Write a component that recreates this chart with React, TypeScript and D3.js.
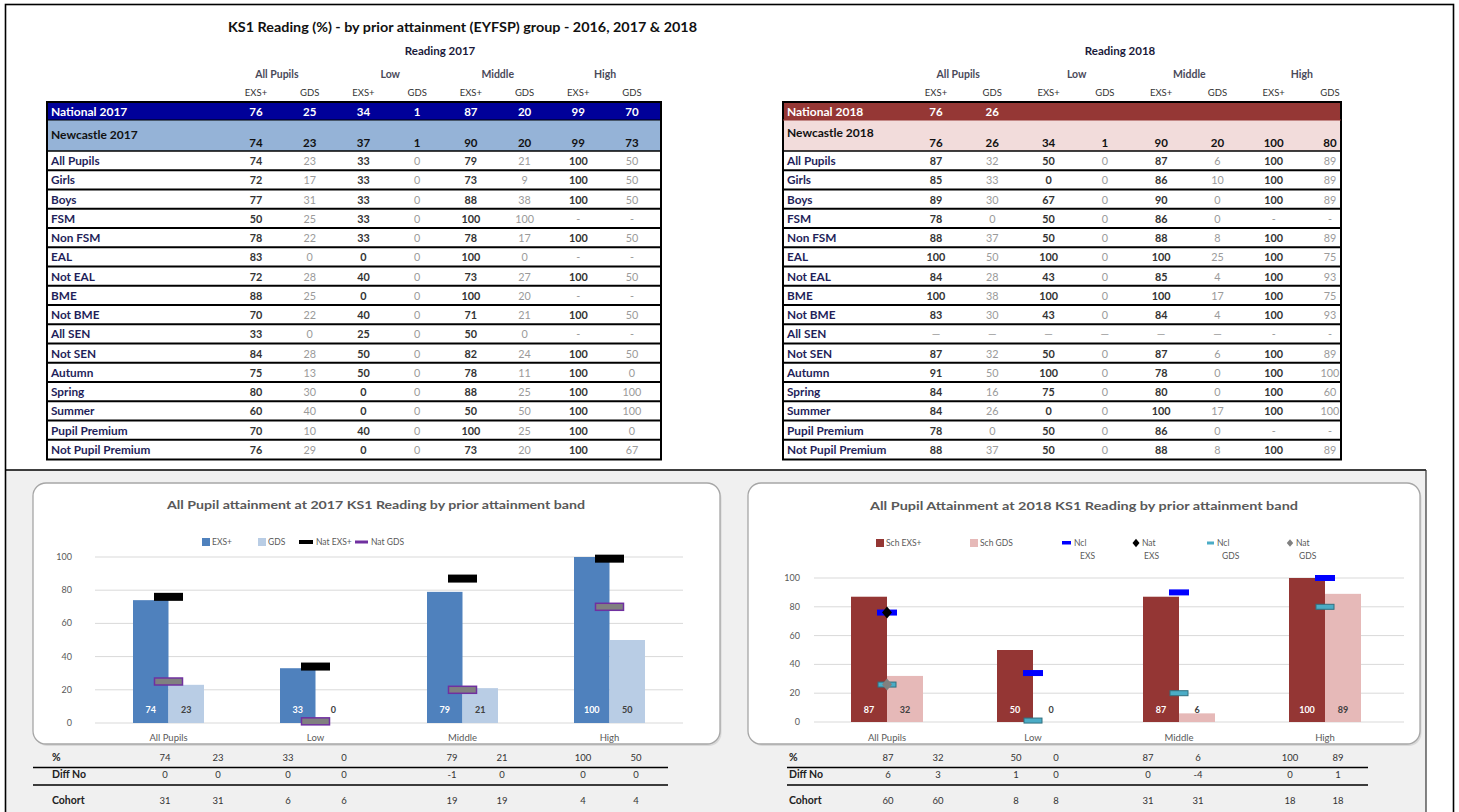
import React from "react";
import * as d3 from "d3";

const FONT = "Lato, 'Open Sans', sans-serif";

// ---------- DATA ----------
const bands = ["All Pupils", "Low", "Middle", "High"];
const measures = ["EXS+", "GDS"];
const rowLabels = [
  "All Pupils", "Girls", "Boys", "FSM", "Non FSM", "EAL", "Not EAL", "BME", "Not BME",
  "All SEN", "Not SEN", "Autumn", "Spring", "Summer", "Pupil Premium", "Not Pupil Premium",
];
const national2017 = [76, 25, 34, 1, 87, 20, 99, 70];
const newcastle2017 = [74, 23, 37, 1, 90, 20, 99, 73];
const national2018 = [76, 26];
const newcastle2018 = [76, 26, 34, 1, 90, 20, 100, 80];
const rows2017: (number | string)[][] = [
  [74, 23, 33, 0, 79, 21, 100, 50],
  [72, 17, 33, 0, 73, 9, 100, 50],
  [77, 31, 33, 0, 88, 38, 100, 50],
  [50, 25, 33, 0, 100, 100, "-", "-"],
  [78, 22, 33, 0, 78, 17, 100, 50],
  [83, 0, 0, 0, 100, 0, "-", "-"],
  [72, 28, 40, 0, 73, 27, 100, 50],
  [88, 25, 0, 0, 100, 20, "-", "-"],
  [70, 22, 40, 0, 71, 21, 100, 50],
  [33, 0, 25, 0, 50, 0, "-", "-"],
  [84, 28, 50, 0, 82, 24, 100, 50],
  [75, 13, 50, 0, 78, 11, 100, 0],
  [80, 30, 0, 0, 88, 25, 100, 100],
  [60, 40, 0, 0, 50, 50, 100, 100],
  [70, 10, 40, 0, 100, 25, 100, 0],
  [76, 29, 0, 0, 73, 20, 100, 67],
];
const rows2018: (number | string)[][] = [
  [87, 32, 50, 0, 87, 6, 100, 89],
  [85, 33, 0, 0, 86, 10, 100, 89],
  [89, 30, 67, 0, 90, 0, 100, 89],
  [78, 0, 50, 0, 86, 0, "-", "-"],
  [88, 37, 50, 0, 88, 8, 100, 89],
  [100, 50, 100, 0, 100, 25, 100, 75],
  [84, 28, 43, 0, 85, 4, 100, 93],
  [100, 38, 100, 0, 100, 17, 100, 75],
  [83, 30, 43, 0, 84, 4, 100, 93],
  ["—", "—", "—", "—", "—", "—", "-", "-"],
  [87, 32, 50, 0, 87, 6, 100, 89],
  [91, 50, 100, 0, 78, 0, 100, 100],
  [84, 16, 75, 0, 80, 0, 100, 60],
  [84, 26, 0, 0, 100, 17, 100, 100],
  [78, 0, 50, 0, 86, 0, "-", "-"],
  [88, 37, 50, 0, 88, 8, 100, 89],
];

// chart 2017
const exs2017 = [74, 33, 79, 100];
const gds2017 = [23, 0, 21, 50];
const natExs2017 = [76, 34, 87, 99];
const natGds2017 = [25, 1, 20, 70];
// chart 2018
const exs2018 = [87, 50, 87, 100];
const gds2018 = [32, 0, 6, 89];
const nclExs2018 = [76, 34, 90, 100];
const natExs2018 = [76];
const nclGds2018 = [26, 1, 20, 80];
const natGds2018 = [26];
const yTicks = [0, 20, 40, 60, 80, 100];

// summary tables under the charts
const summaryLabels = ["%", "Diff No", "Cohort"];
const pct2017 = [74, 23, 33, 0, 79, 21, 100, 50];
const diff2017 = [0, 0, 0, 0, -1, 0, 0, 0];
const cohort2017 = [31, 31, 6, 6, 19, 19, 4, 4];
const pct2018 = [87, 32, 50, 0, 87, 6, 100, 89];
const diff2018 = [6, 3, 1, 0, 0, -4, 0, 1];
const cohort2018 = [60, 60, 8, 8, 31, 31, 18, 18];

// ---------- LAYOUT ----------
const LABEL_COL = "#1f1f5a";
const sumColsLeft = [165, 218, 288, 344, 452, 502, 583, 636];
const sumColsRight = [888, 938, 1016, 1056, 1148, 1198, 1290, 1338];

function TopTable(p: any) {
  const x = d3.scalePoint<number>().domain(d3.range(8)).range([p.c0, p.c1]);
  const ry = d3.scaleLinear().domain([0, rowLabels.length]).range([151, 459]);
  return (
    <g>
      <text x={p.headingX} y={55} textAnchor="middle" fontWeight={700} fontSize={11.5} fill="#1a1a3a">{p.heading}</text>
      {bands.map((b, i) => (
        <text key={b} x={(x(2 * i)! + x(2 * i + 1)!) / 2 - (i === 0 ? 6 : 0)} y={78} textAnchor="middle" fontSize={10.5} fontWeight={700} fill="#4a4a5a">{b}</text>
      ))}
      {d3.range(8).map((i) => (
        <text key={i} x={x(i)} y={96} textAnchor="middle" fontSize={9.5} fill="#333">{measures[i % 2]}</text>
      ))}
      <rect x={p.x0} y={102} width={p.x1 - p.x0} height={18} fill={p.natFill} />
      <text x={p.x0 + 4} y={115.5} fill="#fff" fontWeight={700} fontSize={12}>{p.natLabel}</text>
      {p.natVals.map((v: number, i: number) => (
        <text key={i} x={x(i)} y={116} textAnchor="middle" fill="#fff" fontWeight={700} fontSize={11.5}>{v}</text>
      ))}
      <rect x={p.x0} y={120} width={p.x1 - p.x0} height={31} fill={p.nclFill} />
      <text x={p.x0 + 4} y={p.nclLabelY} fill="#111" fontWeight={700} fontSize={12}>{p.nclLabel}</text>
      {p.nclVals.map((v: number, i: number) => (
        <text key={i} x={x(i)} y={146.5} textAnchor="middle" fill="#111" fontWeight={700} fontSize={11.5}>{v}</text>
      ))}
      {rowLabels.map((lab, r) => (
        <g key={lab}>
          <text x={p.x0 + 4} y={ry(r) + 14} fontSize={11.8} fontWeight={700} fill={LABEL_COL}>{lab}</text>
          {p.rows[r].map((v: number | string, i: number) => {
            const strong = i % 2 === 0 && typeof v === "number";
            return (
              <text key={i} x={x(i)} y={ry(r) + 14} textAnchor="middle" fontSize={10.8}
                fontWeight={strong ? 700 : 400} fill={strong ? "#333" : "#9a9a9a"}>{v}</text>
            );
          })}
          <line x1={p.x0} x2={p.x1} y1={ry(r)} y2={ry(r)} stroke="#000" strokeWidth={r === 0 ? 1.6 : 2} />
        </g>
      ))}
      <rect x={p.x0} y={102} width={p.x1 - p.x0} height={ry(rowLabels.length) - 102 + 0.5} fill="none" stroke="#000" strokeWidth={2} />
      <line x1={p.x0} x2={p.x1} y1={120} y2={120} stroke={p.sepColor} strokeWidth={1} />
    </g>
  );
}

function ChartBox({ x0, x1, y0, y1 }: any) {
  return (
    <g>
      <rect x={x0 + 1.5} y={y0 + 2} width={x1 - x0} height={y1 - y0} rx={13} fill="#c8c8c8" opacity={0.6} />
      <rect x={x0} y={y0} width={x1 - x0} height={y1 - y0} rx={13} fill="#fff" stroke="#a6a6a6" strokeWidth={1.3} />
    </g>
  );
}

function Chart2017() {
  const xb = d3.scaleBand<string>().domain(bands).range([95, 683]);
  const xi = d3.scaleBand<string>().domain(measures).range([-35.5, 35.5]);
  const y = d3.scaleLinear().domain([0, 100]).range([723, 557]);
  const cx = (b: string) => xb(b)! + xb.bandwidth() / 2;
  const bw = xi.bandwidth();
  return (
    <g>
      <ChartBox x0={33} x1={720} y0={483} y1={744} />
      <text x={376} y={509} textAnchor="middle" fontSize={12} fontWeight={700} fill="#595959" textLength={418} lengthAdjust="spacingAndGlyphs">
        All Pupil attainment at 2017 KS1 Reading by prior attainment band
      </text>
      {/* legend */}
      <rect x={202} y={538} width={8} height={8} fill="#4f81bd" />
      <text x={212} y={545} fontSize={8.5} fill="#595959">EXS+</text>
      <rect x={258} y={538} width={8} height={8} fill="#b9cde5" />
      <text x={268} y={545} fontSize={8.5} fill="#595959">GDS</text>
      <rect x={299} y={540} width={14} height={4} fill="#000" />
      <text x={316} y={545} fontSize={8.5} fill="#595959">Nat EXS+</text>
      <rect x={355} y={540.5} width={13} height={3} fill="#7030a0" />
      <text x={371} y={545} fontSize={8.5} fill="#595959">Nat GDS</text>
      {yTicks.map((t) => (
        <g key={t}>
          <line x1={95} x2={683} y1={y(t)} y2={y(t)} stroke="#d9d9d9" strokeWidth={1} />
          <text x={72} y={y(t) + 3} textAnchor="end" fontSize={9} fill="#595959">{t}</text>
        </g>
      ))}
      {bands.map((b, i) => (
        <g key={b}>
          <rect x={cx(b) + xi("EXS+")!} y={y(exs2017[i])} width={bw} height={y(0) - y(exs2017[i])} fill="#4f81bd" />
          <rect x={cx(b) + xi("GDS")!} y={y(gds2017[i])} width={bw} height={y(0) - y(gds2017[i])} fill="#b9cde5" />
          <text x={cx(b) + xi("EXS+")! + bw / 2} y={713} textAnchor="middle" fontSize={9} fontWeight={700} fill="#fff">{exs2017[i]}</text>
          <text x={cx(b) + xi("GDS")! + bw / 2} y={713} textAnchor="middle" fontSize={9} fontWeight={700} fill="#404040">{gds2017[i]}</text>
          <text x={cx(b)} y={741} textAnchor="middle" fontSize={9.5} fill="#595959">{b}</text>
        </g>
      ))}
      {bands.map((b, i) => (
        <g key={"m" + b}>
          <rect x={cx(b) - 14} y={y(natGds2017[i]) - 3.5} width={28} height={7} fill="#808080" stroke="#7030a0" strokeWidth={1.5} />
          <rect x={cx(b) - 14.5} y={y(natExs2017[i]) - 4} width={29} height={8} fill="#000" />
        </g>
      ))}
    </g>
  );
}

function Diamond({ x, y, r, fill }: any) {
  return <path d={`M${x},${y - r * 1.2}L${x + r},${y}L${x},${y + r * 1.2}L${x - r},${y}Z`} fill={fill} />;
}

function Chart2018() {
  const xb = d3.scaleBand<string>().domain(bands).range([814, 1398]);
  const xi = d3.scaleBand<string>().domain(measures).range([-36, 36]);
  const y = d3.scaleLinear().domain([0, 100]).range([722, 578]);
  const cx = (b: string) => xb(b)! + xb.bandwidth() / 2;
  const bw = xi.bandwidth();
  const leg2 = 559;
  return (
    <g>
      <ChartBox x0={748} x1={1420} y0={483} y1={744} />
      <text x={1084} y={510} textAnchor="middle" fontSize={12} fontWeight={700} fill="#595959" textLength={428} lengthAdjust="spacingAndGlyphs">
        All Pupil Attainment at 2018 KS1 Reading by prior attainment band
      </text>
      {/* legend */}
      <rect x={876} y={539} width={8} height={8} fill="#943634" />
      <text x={886} y={546} fontSize={8.5} fill="#595959">Sch EXS+</text>
      <rect x={970} y={539} width={8} height={8} fill="#e6b9b8" />
      <text x={980} y={546} fontSize={8.5} fill="#595959">Sch GDS</text>
      <rect x={1062} y={541} width={9} height={3.5} fill="#0000ff" />
      <text x={1074} y={546} fontSize={8.5} fill="#595959">Ncl</text>
      <text x={1080} y={leg2} fontSize={8.5} fill="#595959">EXS</text>
      <Diamond x={1136} y={543} r={3.5} fill="#000" />
      <text x={1142} y={546} fontSize={8.5} fill="#595959">Nat</text>
      <text x={1144} y={leg2} fontSize={8.5} fill="#595959">EXS</text>
      <rect x={1207} y={541.5} width={7} height={3} fill="#4bacc6" />
      <text x={1217} y={546} fontSize={8.5} fill="#595959">Ncl</text>
      <text x={1222} y={leg2} fontSize={8.5} fill="#595959">GDS</text>
      <Diamond x={1290} y={543} r={3.2} fill="#808080" />
      <text x={1296} y={546} fontSize={8.5} fill="#595959">Nat</text>
      <text x={1299} y={leg2} fontSize={8.5} fill="#595959">GDS</text>
      {yTicks.map((t) => (
        <g key={t}>
          <line x1={814} x2={1404} y1={y(t)} y2={y(t)} stroke="#d9d9d9" strokeWidth={1} />
          <text x={800} y={y(t) + 3} textAnchor="end" fontSize={9} fill="#595959">{t}</text>
        </g>
      ))}
      {bands.map((b, i) => (
        <g key={b}>
          <rect x={cx(b) + xi("EXS+")!} y={y(exs2018[i])} width={bw} height={y(0) - y(exs2018[i])} fill="#943634" />
          <rect x={cx(b) + xi("GDS")!} y={y(gds2018[i])} width={bw} height={y(0) - y(gds2018[i])} fill="#e6b9b8" />
          <text x={cx(b) + xi("EXS+")! + bw / 2} y={713} textAnchor="middle" fontSize={9} fontWeight={700} fill="#fff">{exs2018[i]}</text>
          <text x={cx(b) + xi("GDS")! + bw / 2} y={713} textAnchor="middle" fontSize={9} fontWeight={700} fill="#404040">{gds2018[i]}</text>
          <text x={cx(b)} y={741} textAnchor="middle" fontSize={9.5} fill="#595959">{b}</text>
        </g>
      ))}
      {bands.map((b, i) => (
        <g key={"m" + b}>
          <rect x={cx(b) - 9} y={y(nclGds2018[i]) - 2.5} width={18} height={5} fill="#4bacc6" stroke="#31707f" strokeWidth={1} />
          <rect x={cx(b) - 10} y={y(nclExs2018[i]) - 3} width={20} height={6} fill="#0000ff" />
        </g>
      ))}
      {natGds2018.map((v, i) => (
        <Diamond key={"g" + i} x={cx(bands[i])} y={y(v)} r={5} fill="#808080" />
      ))}
      {natExs2018.map((v, i) => (
        <Diamond key={"e" + i} x={cx(bands[i])} y={y(v)} r={5} fill="#000" />
      ))}
    </g>
  );
}

function Summary({ lx, x0, x1, cols, vals }: any) {
  const ys = [761, 778, 804];
  return (
    <g>
      {summaryLabels.map((lab, r) => (
        <g key={lab}>
          <text x={lx} y={ys[r]} fontSize={10.5} fontWeight={700} fill="#222">{lab}</text>
          {vals[r].map((v: number, i: number) => (
            <text key={i} x={cols[i]} y={ys[r]} textAnchor="middle" fontSize={9.5} fill="#333">{v}</text>
          ))}
        </g>
      ))}
      <line x1={x0} x2={x1} y1={767.5} y2={767.5} stroke="#000" strokeWidth={1.6} />
      <line x1={x0} x2={x1} y1={785} y2={785} stroke="#000" strokeWidth={1.6} />
    </g>
  );
}

export default function App() {
  return (
    <svg width={1459} height={812} style={{ position: "absolute", left: 0, top: 0, background: "#fff" }} fontFamily={FONT}>
      <rect x={0} y={0} width={1459} height={812} fill="#fff" />
      {/* bottom grey panel */}
      <rect x={6} y={470} width={1420} height={345} fill="#f0f0f0" />
      <line x1={5} x2={1426} y1={470} y2={470} stroke="#000" strokeWidth={1.6} />
      <line x1={1426} x2={1426} y1={470} y2={812} stroke="#333" strokeWidth={1.2} />
      <rect x={5.5} y={4.5} width={1448} height={820} fill="none" stroke="#000" strokeWidth={1.6} />

      <text x={228} y={32} fontSize={13} fontWeight={700} fill="#111" textLength={469} lengthAdjust="spacingAndGlyphs">
        KS1 Reading (%)  - by prior attainment (EYFSP) group - 2016, 2017 &amp; 2018
      </text>

      <TopTable x0={47} x1={661} c0={256} c1={632} heading="Reading 2017" headingX={440}
        natLabel="National 2017" natVals={national2017} natFill="#000099"
        nclLabel="Newcastle 2017" nclVals={newcastle2017} nclFill="#95b3d7" nclLabelY={139}
        rows={rows2017} sepColor="#000" />
      <TopTable x0={783} x1={1341} c0={936} c1={1330} heading="Reading 2018" headingX={1120}
        natLabel="National 2018" natVals={national2018} natFill="#953735"
        nclLabel="Newcastle 2018" nclVals={newcastle2018} nclFill="#f2dcdb" nclLabelY={137}
        rows={rows2018} sepColor="#953735" />

      <Chart2017 />
      <Chart2018 />

      <Summary lx={52} x0={33} x1={668} cols={sumColsLeft} vals={[pct2017, diff2017, cohort2017]} />
      <Summary lx={789} x0={787} x1={1368} cols={sumColsRight} vals={[pct2018, diff2018, cohort2018]} />
    </svg>
  );
}
